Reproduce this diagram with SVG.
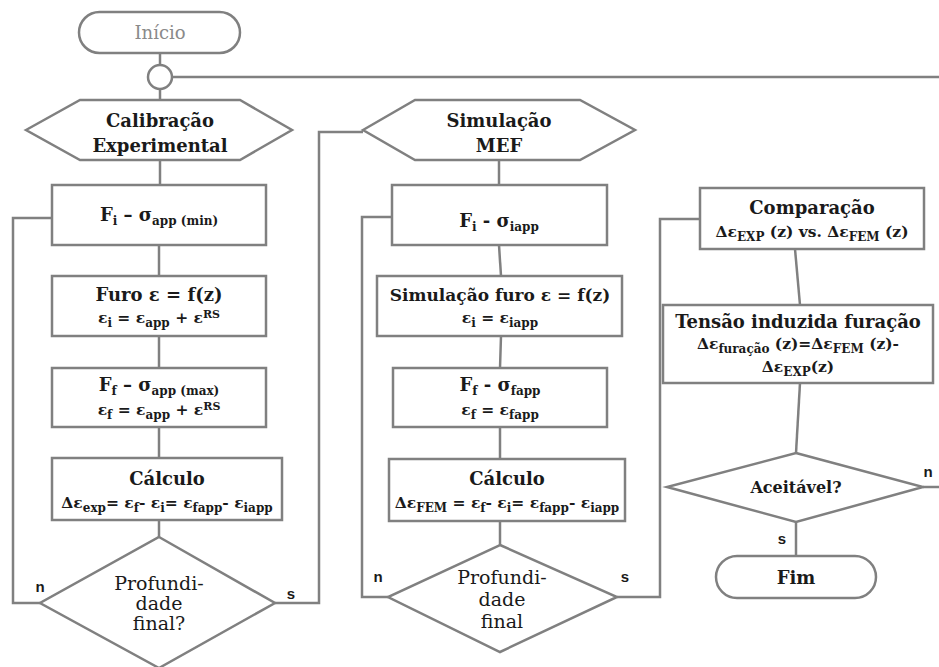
<svg xmlns="http://www.w3.org/2000/svg" width="939" height="667" viewBox="0 0 939 667">
<style>
.s{fill:#fff;stroke:#808080;stroke-width:2.5}
.c{fill:none;stroke:#808080;stroke-width:2.5}
text{font-family:"DejaVu Serif","Liberation Serif",serif;fill:#1a1a1a;text-anchor:middle}
.t{font-size:17px;font-weight:bold}
.f{font-size:15.5px;font-weight:bold}
.b{baseline-shift:-3.5px;font-size:12px}
.p{baseline-shift:5px;font-size:11px}
.q{font-size:19px}
.l{font-family:"Liberation Sans",sans-serif;font-size:15px;font-weight:bold}
</style>
<rect width="939" height="667" fill="#fff"/>
<g id="connectors">
<line class="c" x1="160" y1="53" x2="160" y2="65"/>
<line class="c" x1="160" y1="89" x2="160" y2="100"/>
<line class="c" x1="172" y1="77" x2="939" y2="77"/>
<line class="c" x1="160" y1="160" x2="160" y2="185"/>
<line class="c" x1="159" y1="245" x2="159" y2="276"/>
<line class="c" x1="159" y1="336" x2="159" y2="368"/>
<line class="c" x1="159" y1="427" x2="159" y2="458"/>
<line class="c" x1="159" y1="520" x2="159" y2="537"/>
<polyline class="c" points="40,603 13,603 13,218 52,218"/>
<polyline class="c" points="275,603 319,603 319,132 363,132"/>
<line class="c" x1="499" y1="160" x2="499" y2="185"/>
<line class="c" x1="499" y1="245" x2="501" y2="276"/>
<line class="c" x1="501" y1="336" x2="500" y2="368"/>
<line class="c" x1="500" y1="427" x2="500" y2="459"/>
<line class="c" x1="500" y1="521" x2="500" y2="545"/>
<polyline class="c" points="388,597 362,597 362,217 392,217"/>
<polyline class="c" points="617,597 660,597 660,219 700,219"/>
<line class="c" x1="795" y1="249" x2="800" y2="305"/>
<line class="c" x1="800" y1="383" x2="796" y2="453"/>
<line class="c" x1="923" y1="487" x2="939" y2="487"/>
<line class="c" x1="796" y1="522" x2="796" y2="556"/>
<text class="l" x="40" y="592">n</text>
<text class="l" x="291" y="599">s</text>
<text class="l" x="378" y="582">n</text>
<text class="l" x="625" y="582">s</text>
<text class="l" x="928" y="477">n</text>
<text class="l" x="782" y="544">s</text>
</g>
<g id="inicio">
<rect class="s" x="79" y="12" width="161" height="41" rx="20.5"/>
<text x="160" y="39" style="font-size:18px;fill:#8a8a8a">Início</text>
</g>
<g id="junction">
<circle class="s" cx="160" cy="77" r="12"/>
</g>
<g id="calibracao">
<polygon class="s" points="26,130 80,100 240,100 292,130 240,160 80,160"/>
<text class="t" x="160" y="127" style="font-size:18px">Calibração</text>
<text class="t" x="160" y="152" style="font-size:18px">Experimental</text>
</g>
<g id="simulacao">
<polygon class="s" points="363,130 415,100 580,100 635,130 580,160 415,160"/>
<text class="t" x="499" y="127" style="font-size:18px">Simulação</text>
<text class="t" x="499" y="152" style="font-size:18px">MEF</text>
</g>
<g id="l1">
<rect class="s" x="52" y="185" width="214" height="60"/>
<text class="t" x="159" y="221" style="font-size:18px">F<tspan class="b">i</tspan> – σ<tspan class="b">app (min)</tspan></text>
</g>
<g id="l2">
<rect class="s" x="52" y="276" width="214" height="60"/>
<text class="t" x="159" y="301" style="font-size:18px">Furo ε = f(z)</text>
<text class="f" x="159" y="323">ε<tspan class="b">i</tspan> = ε<tspan class="b">app</tspan> + ε<tspan class="p">RS</tspan></text>
</g>
<g id="l3">
<rect class="s" x="52" y="368" width="214" height="59"/>
<text class="t" x="159" y="391" style="font-size:18px">F<tspan class="b">f</tspan> – σ<tspan class="b">app (max)</tspan></text>
<text class="f" x="159" y="415">ε<tspan class="b">f</tspan> = ε<tspan class="b">app</tspan> + ε<tspan class="p">RS</tspan></text>
</g>
<g id="l4">
<rect class="s" x="52" y="458" width="230" height="62"/>
<text class="t" x="167" y="485" style="font-size:18px">Cálculo</text>
<text class="f" x="167" y="508">Δε<tspan class="b">exp</tspan>= ε<tspan class="b">f</tspan>- ε<tspan class="b">i</tspan>= ε<tspan class="b">fapp</tspan>- ε<tspan class="b">iapp</tspan></text>
</g>
<g id="d1">
<polygon class="s" points="159,537 275,603 159,668 40,603"/>
<text class="q" x="159" y="590">Profundi-</text>
<text class="q" x="159" y="610">dade</text>
<text class="q" x="159" y="630">final?</text>
</g>
<g id="m1">
<rect class="s" x="392" y="185" width="215" height="60"/>
<text class="t" x="499" y="227" style="font-size:18px">F<tspan class="b">i</tspan> - σ<tspan class="b">iapp</tspan></text>
</g>
<g id="m2">
<rect class="s" x="377" y="276" width="245" height="60"/>
<text class="t" x="500" y="301">Simulação furo ε = f(z)</text>
<text class="f" x="500" y="323">ε<tspan class="b">i</tspan> = ε<tspan class="b">iapp</tspan></text>
</g>
<g id="m3">
<rect class="s" x="393" y="368" width="214" height="59"/>
<text class="t" x="500" y="391" style="font-size:18px">F<tspan class="b">f</tspan>  - σ<tspan class="b">fapp</tspan></text>
<text class="f" x="500" y="415">ε<tspan class="b">f</tspan> = ε<tspan class="b">fapp</tspan></text>
</g>
<g id="m4">
<rect class="s" x="389" y="459" width="236" height="62"/>
<text class="t" x="507" y="485" style="font-size:18px">Cálculo</text>
<text class="f" x="507" y="508">Δε<tspan class="b">FEM</tspan> = ε<tspan class="b">f</tspan>- ε<tspan class="b">i</tspan>= ε<tspan class="b">fapp</tspan>- ε<tspan class="b">iapp</tspan></text>
</g>
<g id="d2">
<polygon class="s" points="500,545 617,597 500,652 388,597"/>
<text class="q" x="502" y="584">Profundi-</text>
<text class="q" x="502" y="606">dade</text>
<text class="q" x="502" y="628">final</text>
</g>
<g id="comparacao">
<rect class="s" x="700" y="188" width="224" height="61"/>
<text class="t" x="812" y="214" style="font-size:18px">Comparação</text>
<text class="f" x="812" y="237">Δε<tspan class="b">EXP</tspan> (z) vs. Δε<tspan class="b">FEM</tspan> (z)</text>
</g>
<g id="tensao">
<rect class="s" x="663" y="305" width="270" height="78"/>
<text class="t" x="798" y="328" style="font-size:18px">Tensão induzida furação</text>
<text class="f" x="798" y="349">Δε<tspan class="b">furação</tspan> (z)=Δε<tspan class="b">FEM</tspan> (z)-</text>
<text class="f" x="798" y="372">Δε<tspan class="b">EXP</tspan>(z)</text>
</g>
<g id="aceitavel">
<polygon class="s" points="796,453 923,487 796,522 667,487"/>
<text x="796" y="493" style="font-size:16px;font-weight:bold">Aceitável?</text>
</g>
<g id="fim">
<rect class="s" x="716" y="556" width="160" height="42" rx="21"/>
<text class="t" x="796" y="584" style="font-size:18px">Fim</text>
</g>
</svg>
